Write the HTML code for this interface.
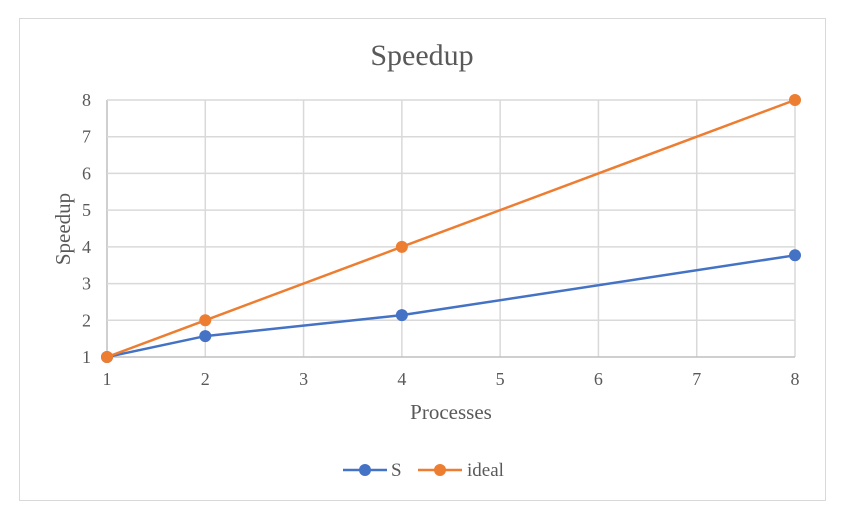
<!DOCTYPE html>
<html><head><meta charset="utf-8"><style>
html,body{margin:0;padding:0;background:#fff;}
svg{display:block;font-family:"Liberation Serif",serif;}
</style></head><body>
<svg id="chart" width="849" height="516">
<rect x="19.5" y="18.5" width="806" height="482" fill="#fff" stroke="#d9d9d9"/>
<text x="422" y="65" text-anchor="middle" font-size="30" fill="#595959">Speedup</text>
<g id="grid"></g>
<g id="series"></g>
<text x="451" y="419" text-anchor="middle" font-size="21" fill="#595959">Processes</text>
<text transform="translate(70,229) rotate(-90)" text-anchor="middle" font-size="21" fill="#595959">Speedup</text>
<g>
<g>
<line x1="343" y1="470" x2="387" y2="470" stroke="#4472c4" stroke-width="2.5"/>
<circle cx="365" cy="470" r="6" fill="#4472c4"/>
<text x="391" y="476" font-size="19" fill="#595959">S</text>
</g>
<g>
<line x1="418" y1="470" x2="462" y2="470" stroke="#ed7d31" stroke-width="2.5"/>
<circle cx="440" cy="470" r="6" fill="#ed7d31"/>
<text x="467" y="476" font-size="19" fill="#595959">ideal</text>
</g>
</g>
</svg>
<script>
const xValues = [1, 2, 4, 8];
const sValues = [1, 1.57, 2.14, 3.77];
const idealValues = [1, 2, 4, 8];
const xTicks = [1, 2, 3, 4, 5, 6, 7, 8];
const yTicks = [1, 2, 3, 4, 5, 6, 7, 8];

const NS = "http://www.w3.org/2000/svg";
const x0 = 107, x1 = 795, y0 = 357, y1 = 100;
function xs(v){ return x0 + (v - 1) / 7 * (x1 - x0); }
function ys(v){ return y0 - (v - 1) / 7 * (y0 - y1); }
function mk(tag, attrs, parent){
  const e = document.createElementNS(NS, tag);
  for (const k in attrs) e.setAttribute(k, attrs[k]);
  parent.appendChild(e); return e;
}
const grid = document.getElementById('grid');
xTicks.forEach(t => {
  const l = mk('line', {x1: xs(t), x2: xs(t), y1: y1, y2: y0, stroke: t === 1 ? '#bfbfbf' : '#d9d9d9', 'stroke-width': 1.5}, grid);
  
  
  const tx = mk('text', {x: xs(t), y: 385, 'text-anchor': 'middle', 'font-size': 18, fill: '#595959'}, grid);
  tx.textContent = t;
  
  
});
yTicks.forEach(t => {
  const l = mk('line', {x1: x0, x2: x1, y1: ys(t), y2: ys(t), stroke: t === 1 ? '#bfbfbf' : '#d9d9d9', 'stroke-width': 1.5}, grid);
  
  
  const tx = mk('text', {x: 91, y: ys(t) + 6, 'text-anchor': 'end', 'font-size': 18, fill: '#595959'}, grid);
  tx.textContent = t;
  
  
});
const series = document.getElementById('series');
function drawSeries(vals, color, name){
  const g = mk('g', {}, series);
  
  
  const pts = xValues.map((x, i) => xs(x) + ',' + ys(vals[i])).join(' ');
  const pl = mk('polyline', {points: pts, fill: 'none', stroke: color, 'stroke-width': 2.5}, g);
  
  
  xValues.forEach((x, i) => {
    const c = mk('circle', {cx: xs(x), cy: ys(vals[i]), r: 6, fill: color}, g);
    
    
  });
}
drawSeries(sValues, '#4472c4', 's');
drawSeries(idealValues, '#ed7d31', 'ideal');
</script>
</body></html>
